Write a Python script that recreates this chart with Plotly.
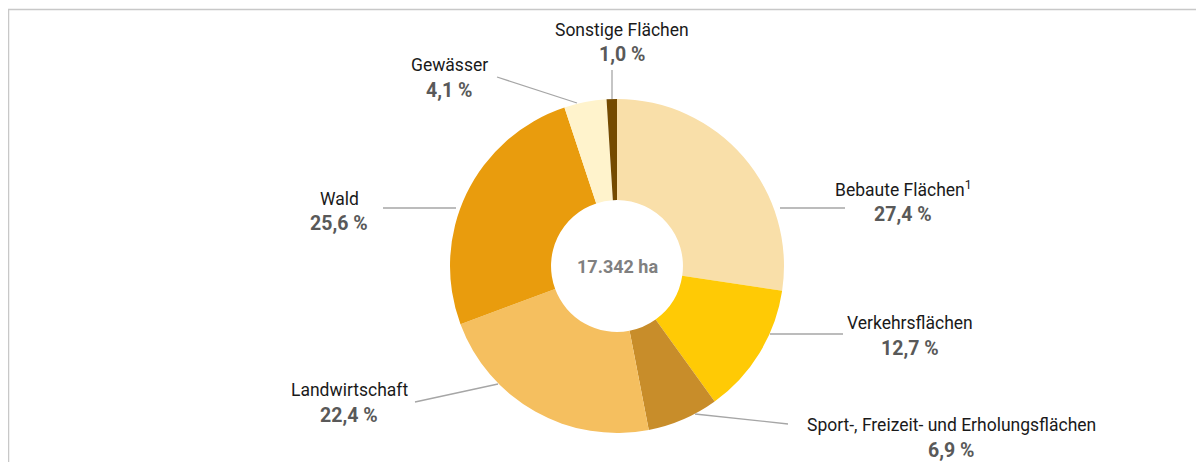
import plotly.graph_objects as go

W, H = 1204, 462
OFF = 8  # page body margin offset

categories = ["Bebaute Flächen<sup>1</sup>", "Verkehrsflächen", "Sport-, Freizeit- und Erholungsflächen",
              "Landwirtschaft", "Wald", "Gewässer", "Sonstige Flächen"]
values = [27.4, 12.7, 6.9, 22.4, 25.6, 4.1, 1.0]
colors = ["#F9DFA9", "#FFCA05", "#C88D2A", "#F5BF5F", "#E99C0D", "#FFF3CC", "#744A00"]
center_label = "17.342 ha"

# layout: label centre (x, y of name line) and leader line endpoints in screen pixels
label_pos = [(903, 189), (910, 323), (951, 425), (349, 390), (339, 199), (449, 65), (622, 30)]
leaders = [((780, 208), (845, 208)), ((770, 334), (843, 334)), ((695, 414), (788, 424)),
           ((498, 384), (415, 402)), ((456, 208), (383, 208)), ((577, 103), (497, 77)),
           ((612, 99), (612, 70))]

cx, cy, R = 617, 266, 167

def px(x):
    return (x - OFF) / W

def py(y):
    return 1 - (y - OFF) / H

fig = go.Figure(go.Pie(
    labels=categories, values=values, sort=False, direction="clockwise", rotation=0,
    hole=0.395, marker=dict(colors=colors, line=dict(width=0)),
    textinfo="none", hoverinfo="label+percent", showlegend=False,
    domain=dict(x=[px(cx - R), px(cx + R)], y=[py(cy + R), py(cy - R)]),
))

FONT = "Roboto, Arial, sans-serif"
annotations = []
for name, v, (lx, ly) in zip(categories, values, label_pos):
    annotations.append(dict(x=px(lx), y=py(ly), xref="paper", yref="paper", text=name,
                            showarrow=False, xanchor="center", yanchor="middle",
                            font=dict(family=FONT, size=17.5, color="#1a1a1a")))
    annotations.append(dict(x=px(lx), y=py(ly + 25), xref="paper", yref="paper",
                            text="<b>" + f"{v:.1f}".replace(".", ",") + " %</b>",
                            showarrow=False, xanchor="center", yanchor="middle",
                            font=dict(family=FONT, size=19.5, color="#595959")))
annotations.append(dict(x=px(cx), y=py(cy), xref="paper", yref="paper",
                        text="<b>" + center_label + "</b>", showarrow=False,
                        font=dict(family=FONT, size=18, color="#808080")))

shapes = [dict(type="rect", xref="paper", yref="paper", x0=px(8.5), y0=py(9.5), x1=px(1230), y1=py(490),
               line=dict(color="#C8C8C8", width=1.5), fillcolor="rgba(0,0,0,0)", layer="below")]
for (a, b) in leaders:
    shapes.append(dict(type="line", xref="paper", yref="paper", x0=px(a[0]), y0=py(a[1]),
                       x1=px(b[0]), y1=py(b[1]), line=dict(color="#A6A6A6", width=1.3)))

fig.update_layout(width=W, height=H, margin=dict(l=0, r=0, t=0, b=0),
                  paper_bgcolor="white", plot_bgcolor="white",
                  annotations=annotations, shapes=shapes)
fig.write_html("out.html")
